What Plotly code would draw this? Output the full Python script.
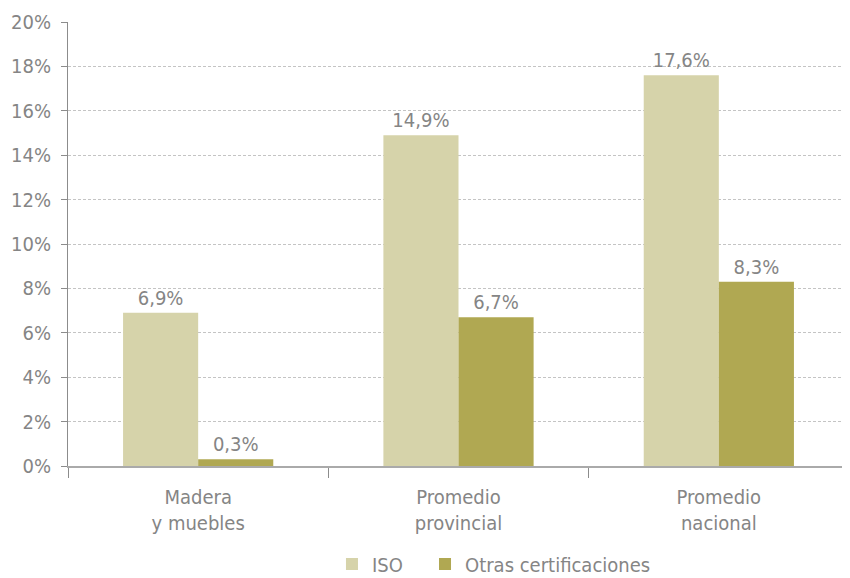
import plotly.graph_objects as go

categories = ["Madera<br>y muebles", "Promedio<br>provincial", "Promedio<br>nacional"]
iso = [6.9, 14.9, 17.6]
otras = [0.3, 6.7, 8.3]
y_ticks = [0, 2, 4, 6, 8, 10, 12, 14, 16, 18, 20]
y_labels = [f"{v}%" for v in y_ticks]

FONT = "DejaVu Sans Condensed, Liberation Sans Narrow, sans-serif"
GREY = "#858585"

fig = go.Figure()
fig.add_trace(go.Bar(
    x=categories, y=iso, name="ISO\u00a0\u00a0\u00a0",
    marker=dict(color="#D6D3AA", line=dict(width=0)),
    texttemplate="%{y:.1f}%", textposition="outside", cliponaxis=False,
    textfont=dict(color=GREY, size=20, family=FONT),
))
fig.add_trace(go.Bar(
    x=categories, y=otras, name="Otras certificaciones",
    marker=dict(color="#B0A852", line=dict(width=0)),
    texttemplate="%{y:.1f}%", textposition="outside", cliponaxis=False,
    textfont=dict(color=GREY, size=20, family=FONT),
))

# page body has an 8px margin, so the figure is offset by 8px
fig.update_layout(
    width=842, height=570,
    separators=",.",
    plot_bgcolor="white", paper_bgcolor="white",
    font=dict(family=FONT, size=20, color=GREY),
    barmode="group", bargap=0.423, bargroupgap=0,
    margin=dict(l=60, r=1, t=14, b=112, autoexpand=False),
    showlegend=True,
    legend=dict(orientation="h", x=0.338, xanchor="left", y=-0.221, yanchor="middle",
                font=dict(size=20, color=GREY), itemwidth=30),
)
fig.update_yaxes(
    range=[0, 20], tickvals=y_ticks, ticktext=y_labels,
    showgrid=True, gridcolor="#c4c4c4", griddash="3px,2px", gridwidth=1,
    showline=True, linecolor="#8c8c8c", linewidth=1,
    ticks="outside", ticklen=6, tickcolor="#8c8c8c", ticklabelstandoff=6,
    zeroline=False, automargin=False,
)
fig.update_xaxes(
    showline=True, linecolor="#aaaaaa", linewidth=2,
    ticks="outside", tickson="boundaries", ticklen=10, tickcolor="#8c8c8c",
    ticklabelstandoff=12, automargin=False,
)

fig.write_html("out.html")
